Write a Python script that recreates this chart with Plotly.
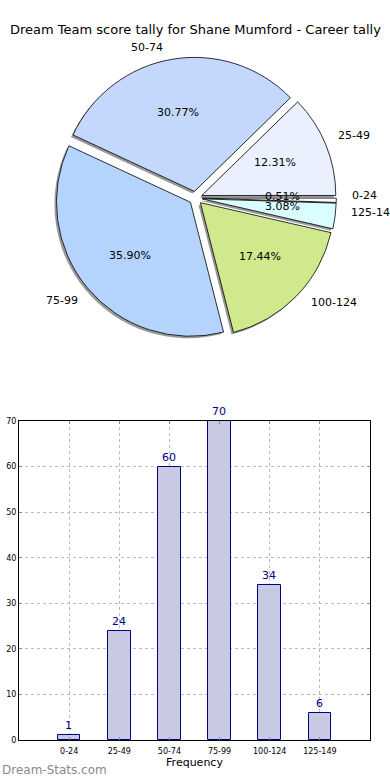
import math
import plotly.graph_objects as go

# ---- data ----
categories = ["0-24", "25-49", "50-74", "75-99", "100-124", "125-149"]
counts = [1, 24, 60, 70, 34, 6]
pie_colors = ["#ffffff", "#eaf0fe", "#c4d8fe", "#b4d4fe", "#d0e98c", "#d8fefe"]
title_text = "Dream Team score tally for Shane Mumford - Career tally"
y_ticks = [0, 10, 20, 30, 40, 50, 60, 70]

W, H = 390, 780
explode = 0.05

# pie geometry (pixels)
pcx, pcy, pr = 195.6, 198.0, 134.0
half = pr * (1 + explode)
dom_x = [(pcx - half) / W, (pcx + half) / W]
dom_y = [1 - (pcy + half) / H, 1 - (pcy - half) / H]
sh = 2.0
sh_dom_x = [dom_x[0] - sh / W, dom_x[1] - sh / W]
sh_dom_y = [dom_y[0] - sh / H, dom_y[1] - sh / H]

fig = go.Figure()

# shadow pie
fig.add_trace(go.Pie(
    labels=categories, values=counts, sort=False, direction="counterclockwise",
    rotation=90, pull=[explode] * len(counts),
    marker=dict(colors=["rgba(70,70,70,0.55)"] * len(counts), line=dict(width=0)),
    textinfo="none", hoverinfo="skip", showlegend=False,
    domain=dict(x=sh_dom_x, y=sh_dom_y),
))
# main pie
fig.add_trace(go.Pie(
    labels=categories, values=counts, sort=False, direction="counterclockwise",
    rotation=90, pull=[explode] * len(counts),
    marker=dict(colors=pie_colors, line=dict(color="black", width=0.8)),
    textinfo="none", hoverinfo="label+percent", showlegend=False,
    domain=dict(x=dom_x, y=dom_y),
))

# pie labels (matplotlib-style positions computed from data)
total = sum(counts)
annotations = []
cum = 0.0
for cat, v in zip(categories, counts):
    t1 = 360.0 * cum / total
    cum += v
    t2 = 360.0 * cum / total
    mid = math.radians((t1 + t2) / 2)
    c, s = math.cos(mid), math.sin(mid)
    ox, oy = pcx + explode * pr * c, pcy - explode * pr * s
    # percentage
    px, py = ox + 0.6 * pr * c, oy - 0.6 * pr * s
    annotations.append(dict(
        x=px / W, y=1 - py / H, xref="paper", yref="paper",
        text=f"{100.0 * v / total:.2f}%", showarrow=False,
        xanchor="center", yanchor="middle",
        font=dict(family="DejaVu Sans", size=11, color="black"),
    ))
    # label
    lx, ly = ox + 1.1 * pr * c, oy - 1.1 * pr * s
    annotations.append(dict(
        x=lx / W, y=1 - ly / H, xref="paper", yref="paper",
        text=cat, showarrow=False,
        xanchor="left" if c > 0 else "right", yanchor="middle",
        font=dict(family="DejaVu Sans", size=11, color="black"),
    ))

# bar chart
fig.add_trace(go.Bar(
    x=categories, y=counts, width=0.45,
    marker=dict(color="#c8cae4", line=dict(color="#000080", width=1)),
    text=[str(v) for v in counts], textposition="outside", cliponaxis=False,
    textfont=dict(family="DejaVu Sans", size=11, color="#000080"),
    showlegend=False, hoverinfo="x+y",
))

annotations.append(dict(
    x=0.5, y=1 - 30 / H, xref="paper", yref="paper", text=title_text,
    showarrow=False, xanchor="center", yanchor="middle",
    font=dict(family="DejaVu Sans", size=13, color="black"),
))
annotations.append(dict(
    x=0.0, y=1 - 770 / H, xref="paper", yref="paper", text="Dream-Stats.com",
    showarrow=False, xanchor="left", yanchor="middle",
    font=dict(family="DejaVu Sans", size=12, color="#8a8a8a"),
))

fig.update_layout(
    width=W, height=H, margin=dict(l=0, r=0, t=0, b=0),
    paper_bgcolor="white", plot_bgcolor="white",
    annotations=annotations, bargap=0,
    xaxis=dict(
        domain=[19 / W, 370 / W], range=[-1, 6], type="category",
        automargin=False,
        showline=True, linecolor="black", linewidth=1, mirror="ticks",
        ticks="inside", ticklen=3, tickcolor="#888",
        showgrid=True, gridcolor="#bbbbbb", griddash="dot", gridwidth=1,
        tickfont=dict(family="DejaVu Sans", size=8, color="black"),
        ticklabelstandoff=3,
        title=dict(text="Frequency", font=dict(family="DejaVu Sans", size=11, color="black"), standoff=2),
        fixedrange=True,
    ),
    yaxis=dict(
        domain=[1 - 740 / H, 1 - 421 / H], range=[0, 70], tickvals=y_ticks,
        automargin=False,
        showline=True, linecolor="black", linewidth=1, mirror="ticks",
        ticks="inside", ticklen=3, tickcolor="#888",
        showgrid=True, gridcolor="#bbbbbb", griddash="dot", gridwidth=1,
        zeroline=False,
        tickfont=dict(family="DejaVu Sans", size=8, color="black"),
        fixedrange=True,
    ),
)

fig.write_html(
    "out.html",
    config={"displayModeBar": False},
    post_script="document.body.style.margin='0';document.body.style.padding='0';",
)
